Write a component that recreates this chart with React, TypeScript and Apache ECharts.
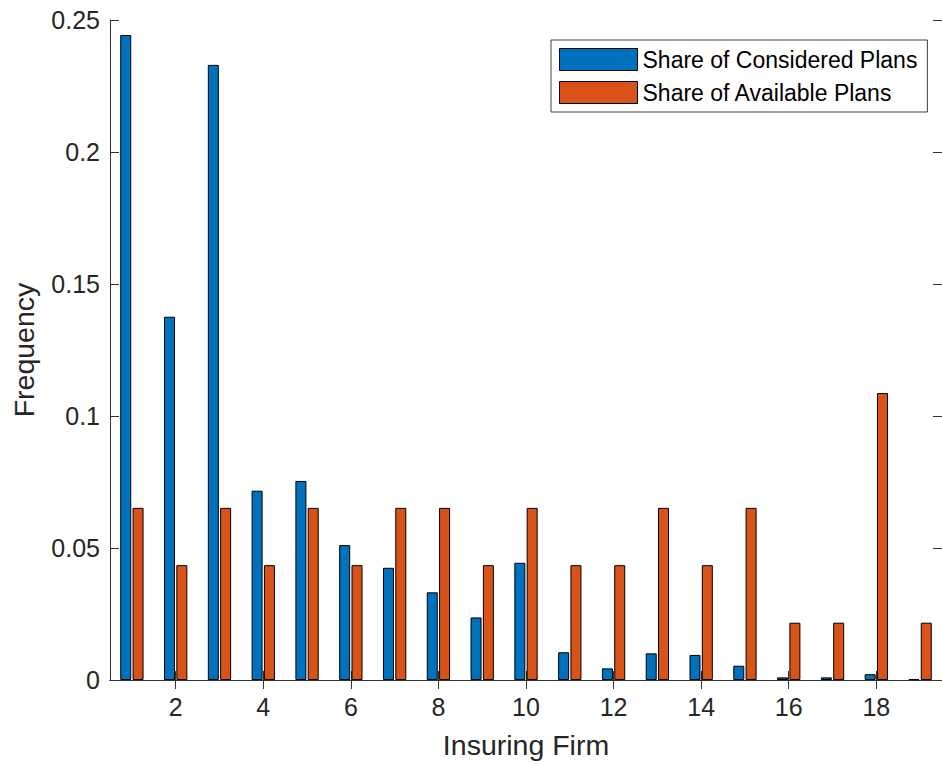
import React, { useEffect, useRef } from "react";
import * as echarts from "echarts";

const categories = ["1", "2", "3", "4", "5", "6", "7", "8", "9", "10", "11", "12", "13", "14", "15", "16", "17", "18", "19"];
const consideredShare = [0.2443, 0.1376, 0.233, 0.0717, 0.0754, 0.0511, 0.0425, 0.0332, 0.0237, 0.0444, 0.0105, 0.0044, 0.0101, 0.0095, 0.0054, 0.001, 0.001, 0.0022, 0.0003];
const availableShare = [0.0652, 0.0435, 0.0652, 0.0435, 0.0652, 0.0435, 0.0652, 0.0652, 0.0435, 0.0652, 0.0435, 0.0435, 0.0652, 0.0435, 0.0652, 0.0217, 0.0217, 0.1087, 0.0217];
const seriesNames = ["Share of Considered Plans", "Share of Available Plans"];

const FONT = "'Liberation Sans', Arial, Helvetica, sans-serif";
const TEXT = "#262626";
const AXIS = "#333333";

export default function App() {
  const ref = useRef<HTMLDivElement>(null);
  useEffect(() => {
    if (!ref.current) return;
    const chart = echarts.init(ref.current, null, { renderer: "svg" });
    const evenOnly = (i: number) => i % 2 === 1;
    const tick = { show: true, inside: true, length: 9, alignWithLabel: true, interval: evenOnly, lineStyle: { color: AXIS, width: 1 } };
    chart.setOption({
      animation: false,
      backgroundColor: "#ffffff",
      textStyle: { fontFamily: FONT },
      grid: { left: 110, top: 20, width: 836, height: 660, containLabel: false },
      legend: {
        data: seriesNames,
        orient: "vertical",
        left: 551,
        top: 40,
        icon: "rect",
        itemWidth: 78,
        itemHeight: 22,
        itemGap: 10,
        padding: [8, 10, 8, 8],
        backgroundColor: "#ffffff",
        borderColor: "#404040",
        borderWidth: 1,
        borderRadius: 0,
        itemStyle: { borderColor: "#000", borderWidth: 1 },
        textStyle: { fontSize: 23, color: "#000", fontFamily: FONT },
      },
      xAxis: [
        {
          type: "category",
          data: categories,
          position: "bottom",
          boundaryGap: true,
          axisLine: { show: true, lineStyle: { color: AXIS, width: 1 } },
          axisTick: tick,
          axisLabel: { interval: evenOnly, margin: 14, fontSize: 25, color: TEXT, fontFamily: FONT },
          splitLine: { show: false },
          name: "Insuring Firm",
          nameLocation: "middle",
          nameGap: 50,
          nameTextStyle: { fontSize: 28.5, color: TEXT, fontFamily: FONT },
        },
        {
          type: "category",
          data: categories,
          position: "top",
          boundaryGap: true,
          axisLine: { show: true, lineStyle: { color: AXIS, width: 1 } },
          axisTick: tick,
          axisLabel: { show: false },
          splitLine: { show: false },
        },
      ],
      yAxis: [
        {
          type: "value",
          min: 0,
          max: 0.25,
          interval: 0.05,
          position: "left",
          axisLine: { show: true, lineStyle: { color: AXIS, width: 1 } },
          axisTick: { show: true, inside: true, length: 9, lineStyle: { color: AXIS, width: 1 } },
          axisLabel: { margin: 10, fontSize: 25, color: TEXT, fontFamily: FONT },
          splitLine: { show: false },
          name: "Frequency",
          nameLocation: "middle",
          nameGap: 72,
          nameTextStyle: { fontSize: 28.5, color: TEXT, fontFamily: FONT },
        },
        {
          type: "value",
          min: 0,
          max: 0.25,
          interval: 0.05,
          position: "right",
          axisLine: { show: true, lineStyle: { color: AXIS, width: 1 } },
          axisTick: { show: true, inside: true, length: 9, lineStyle: { color: AXIS, width: 1 } },
          axisLabel: { show: false },
          splitLine: { show: false },
        },
      ],
      series: [
        {
          name: seriesNames[0],
          type: "bar",
          xAxisIndex: 0,
          yAxisIndex: 0,
          data: consideredShare,
          barWidth: 11,
          barGap: "12%",
          itemStyle: { color: "#0072BD", borderColor: "#000", borderWidth: 1 },
        },
        {
          name: seriesNames[1],
          type: "bar",
          xAxisIndex: 0,
          yAxisIndex: 0,
          data: availableShare,
          barWidth: 11,
          barGap: "12%",
          itemStyle: { color: "#D95319", borderColor: "#000", borderWidth: 1 },
        },
      ],
    });
    return () => chart.dispose();
  }, []);
  return <div ref={ref} style={{ position: "absolute", left: 0, top: 0, width: 942, height: 764 }} />;
}
